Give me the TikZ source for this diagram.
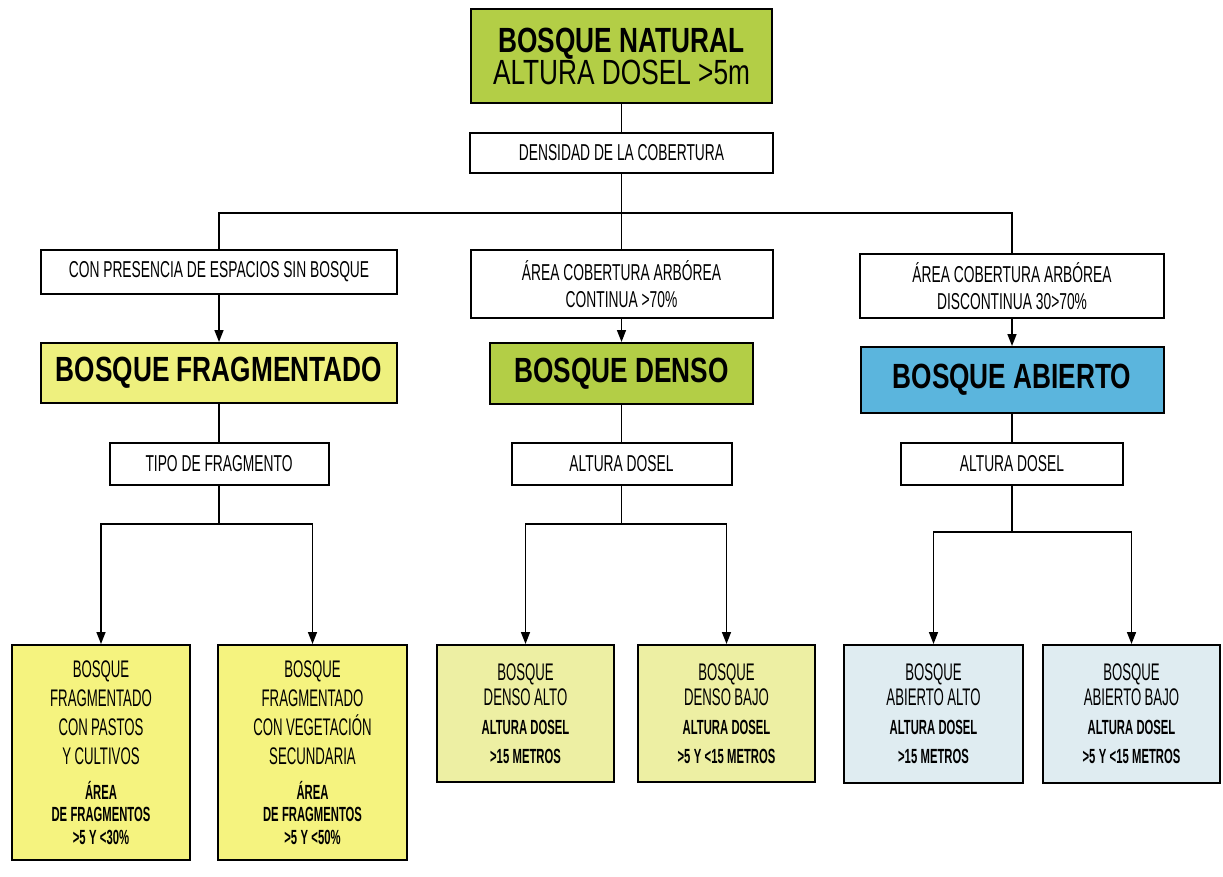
\documentclass[tikz,border=0pt]{standalone}
\usepackage{fontspec}
\usepackage{xcolor}
\usepackage{tikz}
\usetikzlibrary{arrows.meta}
\newfontfamily\condfont{Liberation Sans}[FakeStretch=0.6]
\newfontfamily\leaffont{Liberation Sans}[FakeStretch=0.55]
\newfontfamily\headfont{Liberation Sans}[FakeStretch=0.75]
\newcommand{\leafsmall}[2]{\par\vspace{#1}\fontsize{20.5}{#2}\selectfont\bfseries}
\setlength{\parindent}{0pt}
\definecolor{natgreen}{HTML}{B3CE46}
\definecolor{fragyellow}{HTML}{EEF07E}
\definecolor{abieblue}{HTML}{5BB5DD}
\definecolor{leafyellow}{HTML}{F5F37F}
\definecolor{leafpale}{HTML}{EDEFA3}
\definecolor{leafblue}{HTML}{DFECF1}

\begin{document}
\begin{tikzpicture}[x=1pt,y=-1pt,
    box/.style={draw,line width=2pt,inner sep=0pt,align=center},
    lbl/.style={box,fill=white,font=\condfont\fontsize{23}{27}\selectfont},
    head/.style={box,font=\headfont\bfseries\fontsize{35}{30}\selectfont},
    leaf/.style={box,text width=160pt,font=\leaffont},
    link/.style={line width=1.6pt},
    arr/.style={link,-{Triangle[length=12pt,width=9pt]}}]
    \useasboundingbox[fill=white] (0,0) rectangle (1223,877);
    % Top
    \node[head,fill=natgreen,minimum width=301pt,minimum height=94pt] (nat) at (621.5,56.5)
        {BOSQUE NATURAL\\\mdseries ALTURA DOSEL >5m};
    \node[lbl,minimum width=303pt,minimum height=40pt] (dens) at (621.5,153) {DENSIDAD DE LA COBERTURA};
    % Criteria
    \node[lbl,minimum width=356pt,minimum height=44pt] (pres) at (219,272) {CON PRESENCIA DE ESPACIOS SIN BOSQUE};
    \node[lbl,minimum width=302pt,minimum height=68pt] (cont) at (621.5,284) {ÁREA COBERTURA ARBÓREA\\CONTINUA >70\%};
    \node[lbl,minimum width=304pt,minimum height=64pt] (disc) at (1012,286) {ÁREA COBERTURA ARBÓREA\\DISCONTINUA 30>70\%};
    % Forest types
    \node[head,fill=fragyellow,minimum width=356pt,minimum height=60pt] (frag) at (219,373) {BOSQUE FRAGMENTADO};
    \node[head,fill=natgreen,minimum width=263pt,minimum height=61pt] (denso) at (621.5,373.5) {BOSQUE DENSO};
    \node[head,fill=abieblue,minimum width=303pt,minimum height=66pt] (abie) at (1012,380) {BOSQUE ABIERTO};
    % Subdivision
    \node[lbl,minimum width=219pt,minimum height=42pt] (tipo) at (219,464) {TIPO DE FRAGMENTO};
    \node[lbl,minimum width=220pt,minimum height=42pt] (alt1) at (621.5,464) {ALTURA DOSEL};
    \node[lbl,minimum width=222pt,minimum height=42pt] (alt2) at (1012,464) {ALTURA DOSEL};
    % Leaves
    \foreach \n/\x/\y/\w/\h/\c/\b/\t in {
        l1/101/752.5/178/215/leafyellow/29/{BOSQUE\\FRAGMENTADO\\CON PASTOS\\Y CULTIVOS\leafsmall{12pt}{22.5}ÁREA\\DE FRAGMENTOS\\>5 Y <30\%},
        l2/312.5/752.5/189/215/leafyellow/29/{BOSQUE\\FRAGMENTADO\\CON VEGETACIÓN\\SECUNDARIA\leafsmall{12pt}{22.5}ÁREA\\DE FRAGMENTOS\\>5 Y <50\%},
        l3/525.5/713.5/177/137/leafpale/25/{BOSQUE\\DENSO ALTO\leafsmall{0pt}{29}ALTURA DOSEL\\>15 METROS},
        l4/726.5/713.5/177/137/leafpale/25/{BOSQUE\\DENSO BAJO\leafsmall{0pt}{29}ALTURA DOSEL\\>5 Y <15 METROS},
        l5/933.5/714/179/138/leafblue/25/{BOSQUE\\ABIERTO ALTO\leafsmall{0pt}{29}ALTURA DOSEL\\>15 METROS},
        l6/1131.5/714/177/138/leafblue/25/{BOSQUE\\ABIERTO BAJO\leafsmall{0pt}{29}ALTURA DOSEL\\>5 Y <15 METROS}} {
        \node[leaf,fill=\c,minimum width=\w*1pt,minimum height=\h*1pt] (\n) at (\x,\y)
            {\fontsize{24}{\b}\selectfont\t\par};
    }
    % Connectors
    \draw[link] (nat) -- (dens);
    \draw[link] (dens.south) -- ++(0,39) coordinate (fk0);
    \foreach \n in {pres,cont,disc}
        \draw[link] (fk0) -| (\n.north);
    \foreach \a/\b in {pres/frag,cont/denso,disc/abie}
        \draw[arr] (\a) -- (\b);
    \foreach \a/\b in {frag/tipo,denso/alt1,abie/alt2}
        \draw[link] (\a) -- (\b);
    \draw[link] (tipo.south) -- ++(0,38) coordinate (fk1);
    \draw[link] (alt1.south) -- ++(0,38) coordinate (fk2);
    \draw[link] (alt2.south) -- ++(0,46) coordinate (fk3);
    \foreach \f/\a/\b in {fk1/l1/l2,fk2/l3/l4,fk3/l5/l6} {
        \draw[arr] (\f) -| (\a.north);
        \draw[arr] (\f) -| (\b.north);
    }
\end{tikzpicture}
\end{document}
